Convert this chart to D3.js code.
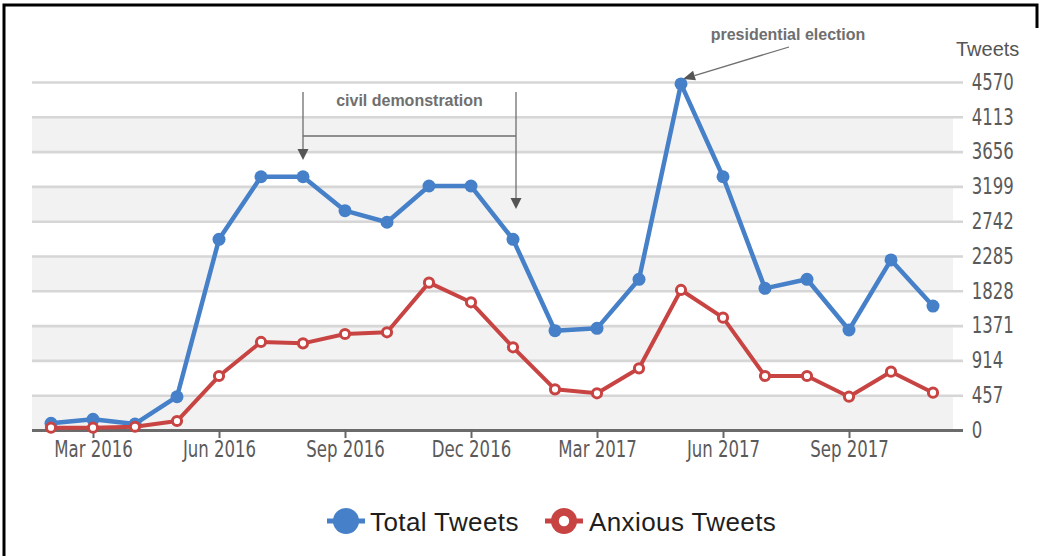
<!DOCTYPE html>
<html>
<head>
<meta charset="utf-8">
<script src="https://cdn.jsdelivr.net/npm/d3@7/dist/d3.min.js"></script>
<style>
  html, body { margin: 0; padding: 0; background: #fff; }
  svg { display: block; }
</style>
</head>
<body>
<svg id="chart" width="1039" height="556"></svg>
<script>
// Monthly tweet counts, Feb 2016 – Nov 2017
const months = [
  "Feb 2016", "Mar 2016", "Apr 2016", "May 2016", "Jun 2016", "Jul 2016",
  "Aug 2016", "Sep 2016", "Oct 2016", "Nov 2016", "Dec 2016", "Jan 2017",
  "Feb 2017", "Mar 2017", "Apr 2017", "May 2017", "Jun 2017", "Jul 2017",
  "Aug 2017", "Sep 2017", "Oct 2017", "Nov 2017"
];
const totalTweets = [
  88, 140, 79, 437, 2504, 3326, 3326, 2880, 2728, 3204, 3204, 2504,
  1304, 1335, 1979, 4545, 3326, 1860, 1979, 1313, 2233, 1628
];
const anxiousTweets = [
  30, 30, 43, 118, 709, 1156, 1138, 1261, 1283, 1935, 1677, 1086,
  534, 482, 810, 1839, 1475, 709, 709, 437, 766, 490
];
const xTickLabels = ["Mar 2016", "Jun 2016", "Sep 2016", "Dec 2016", "Mar 2017", "Jun 2017", "Sep 2017"];
const yTicks = [0, 457, 914, 1371, 1828, 2285, 2742, 3199, 3656, 4113, 4570];
const seriesNames = ["Total Tweets", "Anxious Tweets"];

const BLUE = "#4680c8";
const RED = "#c84443";
const narrow = "'Liberation Sans Narrow', 'DejaVu Sans Condensed', sans-serif";
const squeeze = "scale(0.8,1)";

const svg = d3.select("#chart");

const x = d3.scalePoint().domain(months).range([51, 933]);
const y = d3.scaleLinear().domain([0, 4570]).range([430, 82]);

const plotLeft = 32, bandRight = 953, gridRight = 963;

// frame
svg.append("path")
  .attr("d", "M4,556 L4,5 L1037,5 L1037,28")
  .attr("fill", "none").attr("stroke", "#000").attr("stroke-width", 3);

// alternating horizontal bands
const bandPairs = d3.pairs(yTicks).filter((_, i) => i % 2 === 0);
svg.append("g").selectAll("rect").data(bandPairs).join("rect")
  .attr("x", plotLeft)
  .attr("width", bandRight - plotLeft)
  .attr("y", d => y(d[1]))
  .attr("height", d => y(d[0]) - y(d[1]))
  .attr("fill", "#f2f2f2");

// right value axis with grid lines
const yAxis = svg.append("g")
  .attr("transform", `translate(${gridRight},0)`)
  .call(d3.axisRight(y).tickValues(yTicks).tickSize(0).tickPadding(11).tickFormat(d3.format("d")));
yAxis.select(".domain").remove();
yAxis.selectAll(".tick line")
  .attr("x1", plotLeft - gridRight).attr("x2", 0)
  .attr("stroke", d => d === 0 ? "#6b6b6b" : "#d6d6d6")
  .attr("stroke-width", d => d === 0 ? 3 : 2.6);
yAxis.selectAll(".tick text")
  .attr("font-family", narrow).attr("font-size", 23).attr("fill", "#5a5a5a")
  .attr("transform", squeeze);

svg.append("text")
  .attr("x", 956).attr("y", 56)
  .attr("font-family", "'Liberation Sans', Arial, sans-serif")
  .attr("font-size", 20).attr("fill", "#555")
  .text("Tweets");

// bottom month axis
const xAxis = svg.append("g")
  .attr("transform", `translate(0,${y(0)})`)
  .call(d3.axisBottom(x).tickValues(xTickLabels).tickSize(8).tickPadding(3));
xAxis.select(".domain").remove();
xAxis.selectAll(".tick line").attr("stroke", "#666").attr("stroke-width", 2);
xAxis.selectAll(".tick text")
  .attr("font-family", narrow).attr("font-size", 23).attr("fill", "#5a5a5a")
  .attr("transform", squeeze);

// annotations
const annoColor = "#6f6f6f";
const arrowDown = (cx, tipY) => `M${cx - 5.5},${tipY - 11} L${cx + 5.5},${tipY - 11} L${cx},${tipY} Z`;
const demoL = x("Aug 2016");
const demoR = x("Jan 2017") + 3;
const anno = svg.append("g");
anno.append("path")
  .attr("d", `M${demoL},92 L${demoL},150 M${demoR},92 L${demoR},198 M${demoL},136 L${demoR},136`)
  .attr("fill", "none").attr("stroke", annoColor).attr("stroke-width", 1.3);
anno.append("path").attr("d", arrowDown(demoL, 160)).attr("fill", "#555");
anno.append("path").attr("d", arrowDown(demoR, 209)).attr("fill", "#555");
anno.append("text")
  .attr("x", (demoL + demoR) / 2).attr("y", 106)
  .attr("text-anchor", "middle")
  .attr("font-family", "'Liberation Sans', Arial, sans-serif")
  .attr("font-weight", "bold").attr("font-size", 16).attr("fill", annoColor)
  .text("civil demonstration");

const peakX = x("May 2017");
const tipX = peakX + 2, tipY = 79;
const fromX = 789, fromY = 47;
const ang = Math.atan2(tipY - fromY, tipX - fromX);
const hl = 12, hw = 5;
const bx = tipX - hl * Math.cos(ang), by = tipY - hl * Math.sin(ang);
anno.append("line")
  .attr("x1", fromX).attr("y1", fromY).attr("x2", bx).attr("y2", by)
  .attr("stroke", annoColor).attr("stroke-width", 1.3);
anno.append("path")
  .attr("d", `M${tipX},${tipY} L${bx + hw * Math.sin(ang)},${by - hw * Math.cos(ang)} L${bx - hw * Math.sin(ang)},${by + hw * Math.cos(ang)} Z`)
  .attr("fill", "#555");
anno.append("text")
  .attr("x", 788).attr("y", 40)
  .attr("text-anchor", "middle")
  .attr("font-family", "'Liberation Sans', Arial, sans-serif")
  .attr("font-weight", "bold").attr("font-size", 16).attr("fill", annoColor)
  .text("presidential election");

// series lines
const line = d3.line().x((d, i) => x(months[i])).y(d => y(d));

svg.append("path").datum(totalTweets)
  .attr("d", line).attr("fill", "none")
  .attr("stroke", BLUE).attr("stroke-width", 4.5).attr("stroke-linejoin", "round");
svg.append("g").selectAll("circle").data(totalTweets).join("circle")
  .attr("cx", (d, i) => x(months[i])).attr("cy", d => y(d))
  .attr("r", 6.5).attr("fill", BLUE);

svg.append("path").datum(anxiousTweets)
  .attr("d", line).attr("fill", "none")
  .attr("stroke", RED).attr("stroke-width", 4).attr("stroke-linejoin", "round");
svg.append("g").selectAll("circle").data(anxiousTweets).join("circle")
  .attr("cx", (d, i) => x(months[i])).attr("cy", d => y(d))
  .attr("r", 4.6).attr("fill", "#fff").attr("stroke", RED).attr("stroke-width", 3);

// legend
const legend = svg.append("g").attr("transform", "translate(0,521)");
const legendItems = [
  { name: seriesNames[0], color: BLUE, x0: 327, hollow: false, tx: 370 },
  { name: seriesNames[1], color: RED, x0: 545, hollow: true, tx: 589 }
];
legendItems.forEach(it => {
  legend.append("line")
    .attr("x1", it.x0).attr("x2", it.x0 + 38).attr("y1", 0).attr("y2", 0)
    .attr("stroke", it.color).attr("stroke-width", 5);
  legend.append("circle")
    .attr("cx", it.x0 + 19).attr("cy", 0).attr("r", 13).attr("fill", it.color);
  if (it.hollow) {
    legend.append("circle").attr("cx", it.x0 + 19).attr("cy", 0).attr("r", 5.2).attr("fill", "#fff");
  }
  legend.append("text")
    .attr("x", it.tx).attr("y", 9.5)
    .attr("font-family", "'Liberation Sans', Arial, sans-serif")
    .attr("font-size", 26).attr("letter-spacing", 0.4).attr("fill", "#1e1e1e")
    .text(it.name);
});
</script>
</body>
</html>
